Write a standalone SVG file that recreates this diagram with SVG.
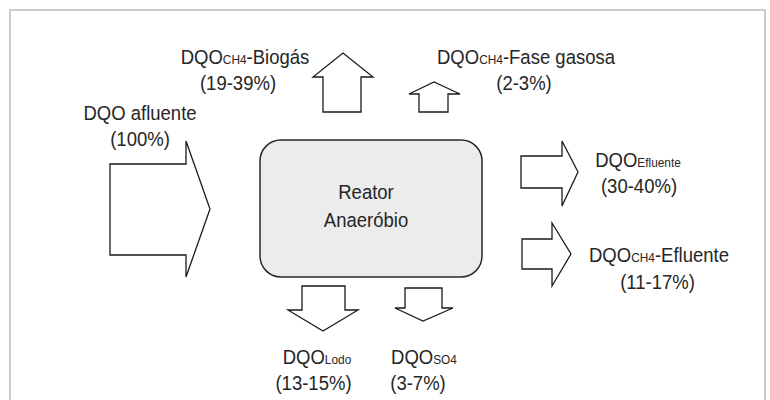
<svg xmlns="http://www.w3.org/2000/svg" width="770" height="400" viewBox="0 0 770 400">
<style>
.t{font-family:"Liberation Sans",Arial,sans-serif;font-size:19.5px;fill:#262626;text-anchor:middle}
.s{font-size:12.5px}
.arr{fill:#ffffff;stroke:#1a1a1a;stroke-width:1.3;stroke-linejoin:miter}
</style>
<rect x="0" y="0" width="770" height="400" fill="#ffffff"/>
<rect x="10" y="10" width="755" height="400" fill="none" stroke="#cccccc" stroke-width="2"/>
<g id="reator">
<rect x="260" y="140" width="222" height="137" rx="21" ry="21" fill="#ececec" stroke="#2a2a2a" stroke-width="1.5"/>
<text class="t" transform="translate(366,199) scale(0.95,1)">Reator</text>
<text class="t" transform="translate(366,227) scale(0.95,1)">Anaeróbio</text>
</g>
<g id="afluente">
<text class="t" transform="translate(140,120) scale(0.95,1)">DQO afluente</text>
<text class="t" transform="translate(140,146) scale(0.95,1)">(100%)</text>
</g>
<g id="biogas">
<text class="t" transform="translate(245,64) scale(0.95,1)">DQO<tspan class="s">CH4</tspan>-Biogás</text>
<text class="t" transform="translate(238,90) scale(0.95,1)">(19-39%)</text>
</g>
<g id="fase-gasosa">
<text class="t" transform="translate(526,64) scale(0.95,1)">DQO<tspan class="s">CH4</tspan>-Fase gasosa</text>
<text class="t" transform="translate(524,90) scale(0.95,1)">(2-3%)</text>
</g>
<g id="efluente">
<text class="t" transform="translate(638,167) scale(0.95,1)">DQO<tspan class="s">Efluente</tspan></text>
<text class="t" transform="translate(639,193) scale(0.95,1)">(30-40%)</text>
</g>
<g id="ch4-efluente">
<text class="t" transform="translate(659,262) scale(0.95,1)">DQO<tspan class="s">CH4</tspan>-Efluente</text>
<text class="t" transform="translate(657.5,289) scale(0.95,1)">(11-17%)</text>
</g>
<g id="lodo">
<text class="t" transform="translate(317,364) scale(0.95,1)">DQO<tspan class="s">Lodo</tspan></text>
<text class="t" transform="translate(313.5,390) scale(0.95,1)">(13-15%)</text>
</g>
<g id="so4">
<text class="t" transform="translate(424,364) scale(0.95,1)">DQO<tspan class="s">SO4</tspan></text>
<text class="t" transform="translate(418,390) scale(0.95,1)">(3-7%)</text>
</g>
<g id="connectors">
<polygon class="arr" points="110,164 186,164 186,141 210,209 186,277 186,255 110,255"/>
<polygon class="arr" points="323,112 323,77 313,77 343,53 373,77 361,77 361,112"/>
<polygon class="arr" points="419,112 419,94 409,94 434,82 460,94 448,94 448,112"/>
<polygon class="arr" points="521,156 562,156 562,141 578,172 562,206 562,188 521,188"/>
<polygon class="arr" points="522,239 552,239 552,223 571,254 552,286 552,269 522,269"/>
<polygon class="arr" points="302,286 345,286 345,310 358,310 323,331 288,310 302,310"/>
<polygon class="arr" points="405,288 442,288 442,308 453,308 423,321 395,308 405,308"/>
</g>
</svg>
